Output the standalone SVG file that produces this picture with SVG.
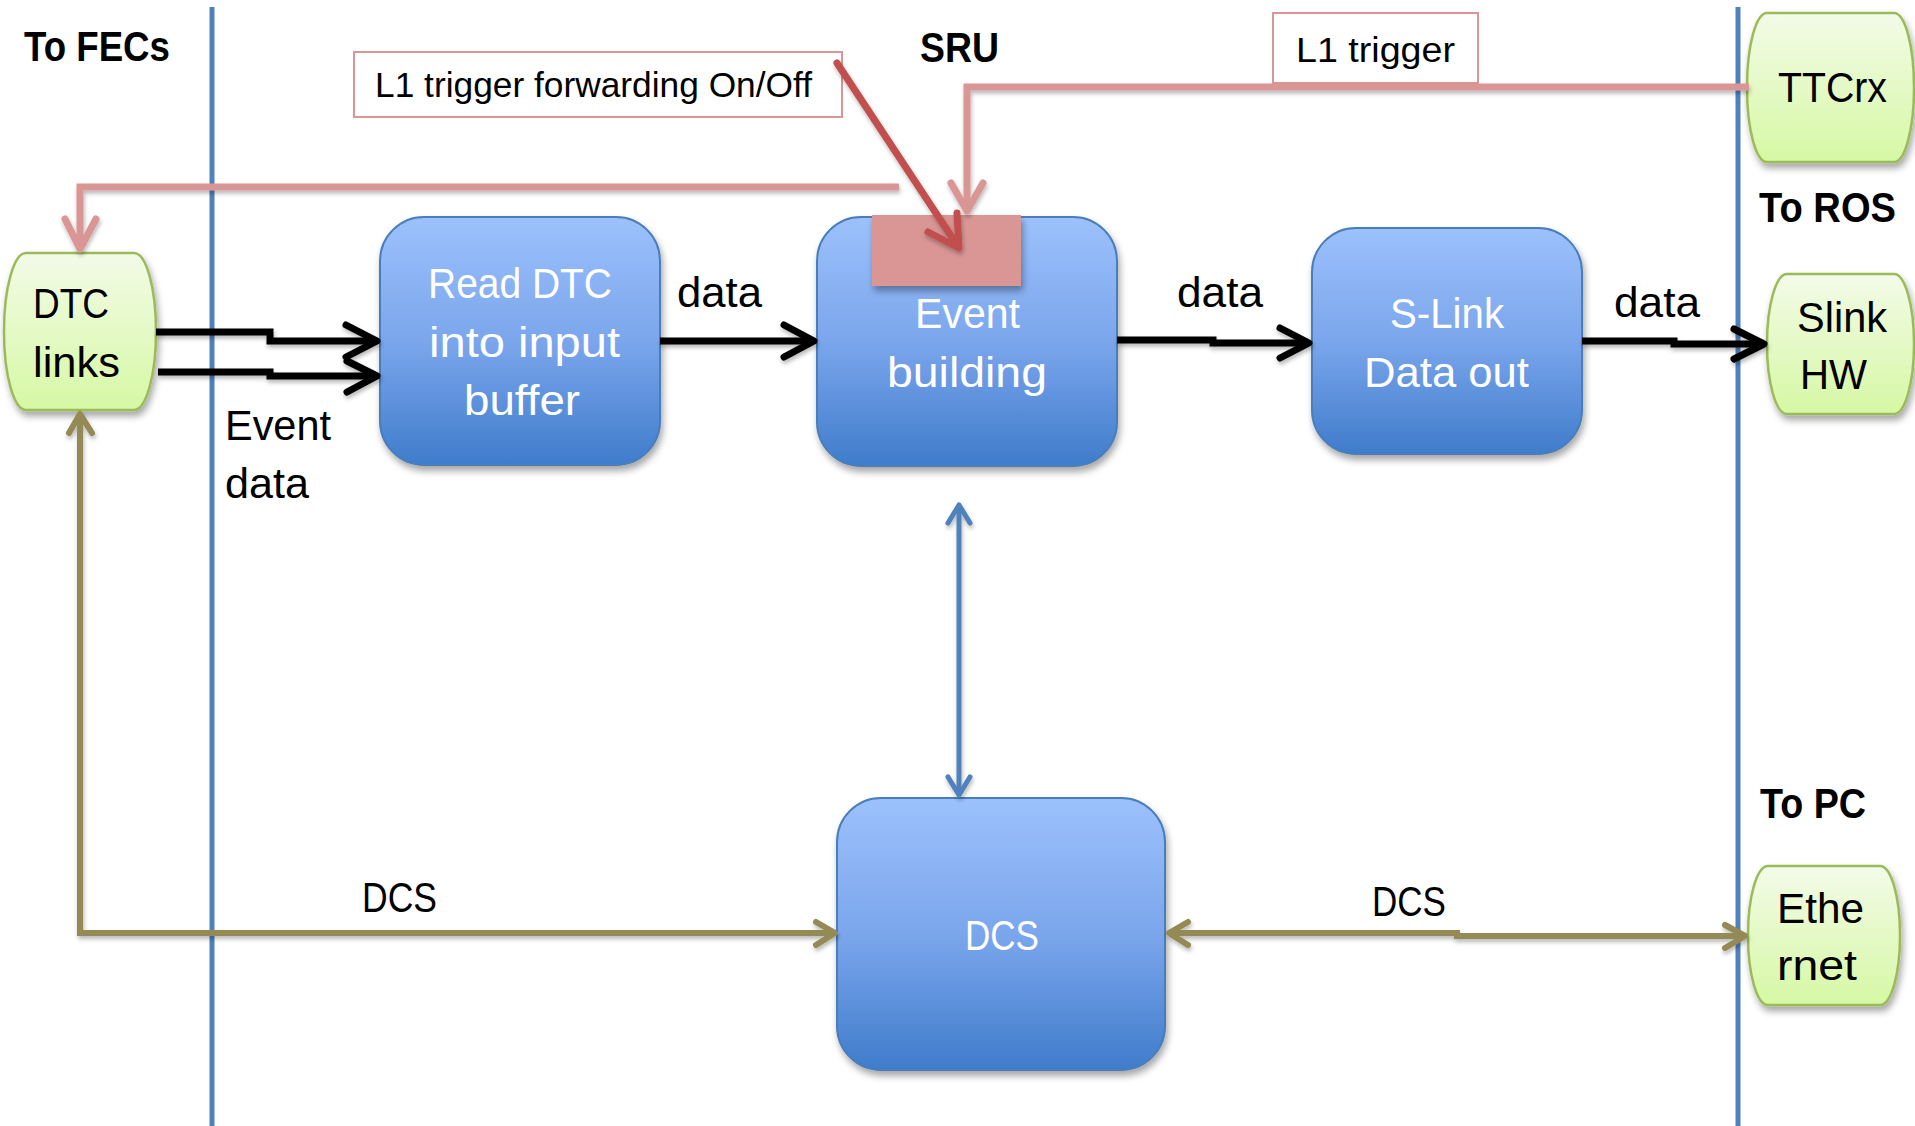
<svg xmlns="http://www.w3.org/2000/svg" width="1915" height="1126" viewBox="0 0 1915 1126">
  <defs>
    <linearGradient id="gBlue" x1="0" y1="0" x2="0" y2="1">
      <stop offset="0" stop-color="#9CC1FC"/>
      <stop offset="0.5" stop-color="#7BA6EC"/>
      <stop offset="1" stop-color="#3F7CCB"/>
    </linearGradient>
    <linearGradient id="gGreen" x1="0" y1="0" x2="0" y2="1">
      <stop offset="0" stop-color="#F3FBE8"/>
      <stop offset="1" stop-color="#D6F8A4"/>
    </linearGradient>
    <filter id="shBox" x="-10%" y="-10%" width="125%" height="130%">
      <feDropShadow dx="2" dy="5" stdDeviation="3.5" flood-color="#000" flood-opacity="0.35"/>
    </filter>
    <filter id="shLine" x="-5%" y="-5%" width="110%" height="120%">
      <feDropShadow dx="1" dy="3" stdDeviation="2" flood-color="#000" flood-opacity="0.28"/>
    </filter>
    <style>
      text { font-family: "Liberation Sans", Arial, sans-serif; }
      .hdr { font-size: 43px; font-weight: bold; fill: #000; }
      .lbl { font-size: 42px; fill: #000; }
      .wht { font-size: 42px; fill: #FFFFFF; }
      .ann { font-size: 35px; fill: #000; }
      .blue { fill: url(#gBlue); stroke: #4A7EBB; stroke-width: 2; filter: url(#shBox); }
      .green { fill: url(#gGreen); stroke: #9BBB59; stroke-width: 2.5; filter: url(#shBox); }
      .annbox { fill: #FFFFFF; stroke: #D99694; stroke-width: 2; }
      .divider { stroke: #4F81BD; stroke-width: 5; fill: none; }
      .blk { stroke: #000; stroke-width: 7; fill: none; }
      .blkh { stroke: #000; stroke-width: 7; fill: none; stroke-linecap: round; stroke-linejoin: round; }
      .pink { stroke: #D99694; stroke-width: 7; fill: none; }
      .pinkh { stroke: #D99694; stroke-width: 7; fill: none; stroke-linecap: round; stroke-linejoin: round; }
      .red { stroke: #C0504D; stroke-width: 7; fill: none; stroke-linecap: round; stroke-linejoin: round; }
      .bl { stroke: #4F81BD; stroke-width: 5; fill: none; }
      .blh { stroke: #4F81BD; stroke-width: 5; fill: none; stroke-linecap: round; stroke-linejoin: round; }
      .ol { stroke: #948A54; stroke-width: 6; fill: none; }
      .olh { stroke: #948A54; stroke-width: 6; fill: none; stroke-linecap: round; stroke-linejoin: round; }
    </style>
  </defs>

  <rect x="0" y="0" width="1915" height="1126" fill="#FFFFFF"/>

  <g id="dividers">
    <line class="divider" x1="212" y1="7" x2="212" y2="1126"/>
    <line class="divider" x1="1738" y1="7" x2="1738" y2="1126"/>
  </g>

  <g id="headers">
    <text class="hdr" x="24" y="61" textLength="146" lengthAdjust="spacingAndGlyphs">To FECs</text>
    <text class="hdr" x="920" y="62" textLength="79" lengthAdjust="spacingAndGlyphs">SRU</text>
    <text class="hdr" x="1759" y="222" textLength="137" lengthAdjust="spacingAndGlyphs">To ROS</text>
    <text class="hdr" x="1760" y="818" textLength="106" lengthAdjust="spacingAndGlyphs">To PC</text>
  </g>

  <g id="note-forwarding">
    <rect class="annbox" x="354" y="52" width="488" height="65"/>
    <text class="ann" x="375" y="97" textLength="437" lengthAdjust="spacingAndGlyphs">L1 trigger forwarding On/Off</text>
  </g>

  <g id="note-l1trigger">
    <rect class="annbox" x="1273" y="13" width="205" height="70"/>
    <text class="ann" x="1296" y="62" textLength="159" lengthAdjust="spacingAndGlyphs">L1 trigger</text>
  </g>

  <g id="node-dtc">
    <rect class="green" x="4" y="253" width="152" height="157" rx="22" ry="78"/>
    <text class="lbl" x="33" y="318" textLength="76" lengthAdjust="spacingAndGlyphs">DTC</text>
    <text class="lbl" x="33" y="377" textLength="87" lengthAdjust="spacingAndGlyphs">links</text>
  </g>

  <g id="node-read">
    <rect class="blue" x="380" y="217" width="280" height="248" rx="44" ry="44"/>
    <text class="wht" x="428" y="298" textLength="184" lengthAdjust="spacingAndGlyphs">Read DTC</text>
    <text class="wht" x="429" y="357" textLength="191" lengthAdjust="spacingAndGlyphs">into input</text>
    <text class="wht" x="464" y="415" textLength="116" lengthAdjust="spacingAndGlyphs">buffer</text>
  </g>

  <g id="node-event">
    <rect class="blue" x="817" y="217" width="300" height="249" rx="44" ry="44"/>
    <rect x="872" y="215" width="149" height="71" fill="#D99694" filter="url(#shBox)"/>
    <text class="wht" x="915" y="328" textLength="105" lengthAdjust="spacingAndGlyphs">Event</text>
    <text class="wht" x="887" y="387" textLength="160" lengthAdjust="spacingAndGlyphs">building</text>
  </g>

  <g id="node-slink">
    <rect class="blue" x="1312" y="228" width="270" height="226" rx="44" ry="44"/>
    <text class="wht" x="1390" y="328" textLength="114" lengthAdjust="spacingAndGlyphs">S-Link</text>
    <text class="wht" x="1364" y="387" textLength="165" lengthAdjust="spacingAndGlyphs">Data out</text>
  </g>

  <g id="node-dcs">
    <rect class="blue" x="837" y="798" width="328" height="272" rx="44" ry="44"/>
    <text class="wht" x="965" y="950" textLength="74" lengthAdjust="spacingAndGlyphs">DCS</text>
  </g>

  <g id="node-ttcrx">
    <rect class="green" x="1747" y="13" width="167" height="149" rx="20" ry="74"/>
    <text class="lbl" x="1778" y="102" textLength="109" lengthAdjust="spacingAndGlyphs">TTCrx</text>
  </g>

  <g id="node-slinkhw">
    <rect class="green" x="1767" y="274" width="147" height="140" rx="20" ry="70"/>
    <text class="lbl" x="1797" y="332" textLength="90" lengthAdjust="spacingAndGlyphs">Slink</text>
    <text class="lbl" x="1800" y="389" textLength="67" lengthAdjust="spacingAndGlyphs">HW</text>
  </g>

  <g id="node-ethernet">
    <rect class="green" x="1748" y="866" width="152" height="139" rx="20" ry="69"/>
    <text class="lbl" x="1777" y="923" textLength="87" lengthAdjust="spacingAndGlyphs">Ethe</text>
    <text class="lbl" x="1777" y="980" textLength="80" lengthAdjust="spacingAndGlyphs">rnet</text>
  </g>

  <g id="connectors" filter="url(#shLine)">
    <!-- Event data: DTC links -> Read DTC (two links) -->
    <path class="blk" d="M156,332 H270 V341 H376"/>
    <path class="blkh" d="M346,325 L377,341 L346,357"/>
    <path class="blk" d="M158,372 H270 V376 H376"/>
    <path class="blkh" d="M347,361 L377,376 L347,392"/>
    <!-- data: Read -> Event -->
    <path class="blk" d="M660,341 H812"/>
    <path class="blkh" d="M784,325 L814,341 L784,357"/>
    <!-- data: Event -> S-Link -->
    <path class="blk" d="M1117,340 H1213 V343 H1307"/>
    <path class="blkh" d="M1280,328 L1309,343 L1280,358"/>
    <!-- data: S-Link -> Slink HW -->
    <path class="blk" d="M1582,341 H1674 V344 H1762"/>
    <path class="blkh" d="M1734,329 L1764,344 L1734,359"/>
    <!-- L1 trigger: TTCrx -> Event building -->
    <path class="pink" d="M1749,87 H967 V208"/>
    <path class="pinkh" d="M951,183 L967,211 L983,183"/>
    <!-- L1 trigger forwarded to DTC links -->
    <path class="pink" d="M899,187 H80 V246"/>
    <path class="pinkh" d="M65,219 L80,249 L96,219"/>
    <!-- On/Off control -->
    <path class="red" d="M837,63 L957,245"/>
    <path class="red" d="M928,232 L959,248 L957,213"/>
    <!-- Event building <-> DCS -->
    <path class="bl" d="M959,508 V792"/>
    <path class="blh" d="M948,523 L959,505 L970,523"/>
    <path class="blh" d="M948,777 L959,795 L970,777"/>
    <!-- DCS: DTC links <-> DCS -->
    <path class="ol" d="M80,417 V933 H832"/>
    <path class="olh" d="M69,433 L80,414 L92,433"/>
    <path class="olh" d="M816,922 L835,933 L816,945"/>
    <!-- DCS: DCS <-> Ethernet -->
    <path class="ol" d="M1171,933 H1457 V936 H1742"/>
    <path class="olh" d="M1188,922 L1169,933 L1188,945"/>
    <path class="olh" d="M1725,925 L1745,936 L1725,948"/>
  </g>

  <g id="labels">
    <text class="lbl" x="677" y="307" textLength="85" lengthAdjust="spacingAndGlyphs">data</text>
    <text class="lbl" x="1177" y="307" textLength="86" lengthAdjust="spacingAndGlyphs">data</text>
    <text class="lbl" x="1614" y="317" textLength="86" lengthAdjust="spacingAndGlyphs">data</text>
    <text class="lbl" x="225" y="440" textLength="106" lengthAdjust="spacingAndGlyphs">Event</text>
    <text class="lbl" x="225" y="498" textLength="84" lengthAdjust="spacingAndGlyphs">data</text>
    <text class="lbl" x="362" y="912" textLength="75" lengthAdjust="spacingAndGlyphs">DCS</text>
    <text class="lbl" x="1372" y="916" textLength="74" lengthAdjust="spacingAndGlyphs">DCS</text>
  </g>
</svg>
